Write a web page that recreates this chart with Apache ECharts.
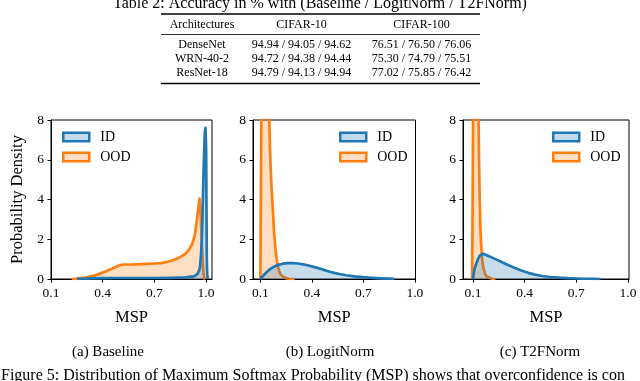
<!DOCTYPE html>
<html><head><meta charset="utf-8">
<script src="https://cdn.jsdelivr.net/npm/echarts@6.0.0/dist/echarts.min.js"></script>
<style>html,body{margin:0;padding:0;background:#fff}#c{width:640px;height:381px}</style>
</head><body><div id="c"></div>
<script>
// ---- data ----
const tableTitle = 'Table 2: Accuracy in % with (Baseline / LogitNorm / T2FNorm)';
const tableHeaders = ['Architectures', 'CIFAR-10', 'CIFAR-100'];
const tableRows = [
  ['DenseNet', '94.94 / 94.05 / 94.62', '76.51 / 76.50 / 76.06'],
  ['WRN-40-2', '94.72 / 94.38 / 94.44', '75.30 / 74.79 / 75.51'],
  ['ResNet-18', '94.79 / 94.13 / 94.94', '77.02 / 75.85 / 76.42']
];
const subCaptions = ['(a) Baseline', '(b) LogitNorm', '(c) T2FNorm'];
const figCaption = 'Figure 5: Distribution of Maximum Softmax Probability (MSP) shows that overconfidence is con';
const seriesNames = ['ID', 'OOD'];
const xTicks = [0.1, 0.4, 0.7, 1.0];
const yTicks = [0, 2, 4, 6, 8];
const xLabel = 'MSP';
const yLabel = 'Probability Density';

const idA = [[0.25,0],[0.3,0.02],[0.4,0.04],[0.5,0.05],[0.6,0.05],[0.7,0.05],[0.8,0.06],[0.88,0.08],[0.93,0.13],[0.95,0.25],[0.96,0.42],[0.965,0.6],[0.971,1.2],[0.976,2.0],[0.979,3.0],[0.982,4.0],[0.985,5.0],[0.988,6.0],[0.991,6.8],[0.994,7.4],[0.997,7.6],[0.999,7.5],[1.001,6.5],[1.002,5],[1.003,3.5],[1.004,2],[1.005,1],[1.007,0.3],[1.01,0]];
const oodA = [[0.22,0],[0.25,0.02],[0.3,0.07],[0.35,0.17],[0.4,0.32],[0.45,0.5],[0.48,0.62],[0.5,0.7],[0.52,0.73],[0.56,0.73],[0.6,0.74],[0.65,0.76],[0.7,0.78],[0.74,0.8],[0.78,0.87],[0.82,0.98],[0.85,1.1],[0.88,1.27],[0.9,1.45],[0.92,1.75],[0.935,2.2],[0.947,2.95],[0.955,3.5],[0.962,4.05],[0.966,3.7],[0.97,3.0],[0.974,2.2],[0.978,1.4],[0.982,0.7],[0.986,0.25],[0.99,0.05],[0.995,0]];
const idB = [[0.1,0],[0.12,0.2],[0.14,0.38],[0.16,0.52],[0.18,0.62],[0.2,0.7],[0.23,0.77],[0.26,0.8],[0.29,0.8],[0.32,0.78],[0.35,0.74],[0.38,0.68],[0.41,0.61],[0.44,0.54],[0.47,0.46],[0.5,0.38],[0.53,0.31],[0.56,0.25],[0.6,0.19],[0.65,0.13],[0.7,0.09],[0.75,0.06],[0.8,0.035],[0.85,0.015],[0.88,0.005]];
const oodB = [[0.1,0],[0.102,3],[0.105,7],[0.108,11],[0.115,16],[0.125,18],[0.135,16],[0.145,11.5],[0.152,8],[0.158,6],[0.165,4.6],[0.172,3.6],[0.178,2.6],[0.184,1.9],[0.19,1.35],[0.196,0.95],[0.202,0.62],[0.21,0.38],[0.22,0.2],[0.235,0.1],[0.25,0.04],[0.27,0.01],[0.3,0]];
const idC = [[0.1,0],[0.105,0.3],[0.11,0.55],[0.12,0.8],[0.13,1.02],[0.14,1.18],[0.15,1.26],[0.16,1.27],[0.18,1.2],[0.2,1.12],[0.23,1.0],[0.26,0.88],[0.3,0.72],[0.34,0.57],[0.38,0.43],[0.42,0.31],[0.46,0.22],[0.5,0.15],[0.55,0.1],[0.6,0.065],[0.65,0.04],[0.7,0.025],[0.75,0.012],[0.8,0.005],[0.84,0]];
const oodC = [[0.095,0],[0.098,4],[0.101,9],[0.108,16],[0.118,20],[0.126,14],[0.131,9],[0.135,6],[0.139,4],[0.143,2.6],[0.147,1.8],[0.151,1.2],[0.156,0.8],[0.162,0.5],[0.17,0.25],[0.18,0.12],[0.19,0.05],[0.21,0.01],[0.23,0]];

const panels = [
  {id: idA, ood: oodA, xMin: 0.1, xMax: 1.035},
  {id: idB, ood: oodB, xMin: 0.057, xMax: 1.004},
  {id: idC, ood: oodC, xMin: 0.042, xMax: 1.006}
];

// ---- layout / style ----
const FONT = 'Liberation Serif';
const BLUE = '#1f77b4', ORANGE = '#ff7f0e';
const gridBoxes = [
  {left: 51, top: 120, width: 161, height: 159},
  {left: 253, top: 120, width: 162.5, height: 159},
  {left: 463, top: 120, width: 166, height: 159}
];
const legendLeft = [62, 339, 552];
const capX = [108, 330, 540];
const colX = [202, 301.5, 421.5];
const rowY = [45, 59, 72.7];

const grids = gridBoxes.map(b => Object.assign({show: true, borderColor: '#000', borderWidth: 1, backgroundColor: 'transparent'}, b));
const xAxes = panels.map((p, i) => ({
  type: 'value', gridIndex: i, min: p.xMin, max: p.xMax,
  name: xLabel, nameLocation: 'middle', nameGap: 30,
  nameTextStyle: {fontFamily: FONT, fontSize: 16.5, color: '#000'},
  axisLine: {show: true, lineStyle: {color: '#000', width: 1}},
  axisTick: {show: true, inside: false, length: 3.5, lineStyle: {color: '#000', width: 1}, customValues: xTicks},
  axisLabel: {customValues: xTicks, margin: 7, fontFamily: FONT, fontSize: 13.5, color: '#000', formatter: v => Number(v).toFixed(1)},
  splitLine: {show: false}
}));
const yAxes = panels.map((p, i) => ({
  type: 'value', gridIndex: i, min: 0, max: 8, interval: 2,
  name: i === 0 ? yLabel : '', nameLocation: 'middle', nameGap: 25,
  nameTextStyle: {fontFamily: FONT, fontSize: 16.5, color: '#000'},
  axisLine: {show: true, lineStyle: {color: '#000', width: 1}},
  axisTick: {show: true, inside: false, length: 3.5, lineStyle: {color: '#000', width: 1}},
  axisLabel: {margin: 7, fontFamily: FONT, fontSize: 13.5, color: '#000', formatter: v => String(v)},
  splitLine: {show: false}
}));
const series = [];
panels.forEach((p, i) => {
  series.push({name: seriesNames[1], type: 'line', xAxisIndex: i, yAxisIndex: i, data: p.ood,
    symbol: 'none', showSymbol: false, clip: true, z: 2, smooth: false,
    lineStyle: {color: ORANGE, width: 2.7, join: 'round'}, itemStyle: {color: ORANGE},
    areaStyle: {color: ORANGE, opacity: 0.25}});
  series.push({name: seriesNames[0], type: 'line', xAxisIndex: i, yAxisIndex: i, data: p.id,
    symbol: 'none', showSymbol: false, clip: true, z: 3, smooth: false,
    lineStyle: {color: BLUE, width: 2.7, join: 'round'}, itemStyle: {color: BLUE},
    areaStyle: {color: BLUE, opacity: 0.25}});
});
const legends = legendLeft.map(l => ({
  orient: 'vertical', left: l, top: 130, padding: 0, itemWidth: 26, itemHeight: 8.5, itemGap: 6,
  selectedMode: false,
  textStyle: {fontFamily: FONT, fontSize: 14, color: '#000', padding: [0, 0, 0, 6]},
  data: [
    {name: seriesNames[0], icon: 'rect', itemStyle: {color: 'rgba(31,119,180,0.28)', borderColor: BLUE, borderWidth: 2.5}},
    {name: seriesNames[1], icon: 'rect', itemStyle: {color: 'rgba(255,127,14,0.25)', borderColor: ORANGE, borderWidth: 2.5}}
  ]
}));

const g = [];
g.push({type: 'text', left: 'center', y: -4, style: {text: tableTitle, fontFamily: FONT, fontSize: 16, fill: '#000'}});
g.push({type: 'line', shape: {x1: 161, y1: 14, x2: 480, y2: 14}, style: {stroke: '#000', lineWidth: 1.3}});
g.push({type: 'line', shape: {x1: 161, y1: 34.5, x2: 480, y2: 34.5}, style: {stroke: '#000', lineWidth: 0.8}});
g.push({type: 'line', shape: {x1: 161, y1: 83.5, x2: 480, y2: 83.5}, style: {stroke: '#000', lineWidth: 1.3}});
tableHeaders.forEach((h, j) => g.push({type: 'text', x: colX[j], y: 25, style: {text: h, fontFamily: FONT, fontSize: 12, fill: '#000', align: 'center', verticalAlign: 'middle'}}));
tableRows.forEach((r, k) => r.forEach((c, j) => g.push({type: 'text', x: colX[j], y: rowY[k], style: {text: c, fontFamily: FONT, fontSize: 12, fill: '#000', align: 'center', verticalAlign: 'middle'}})));
subCaptions.forEach((c, j) => g.push({type: 'text', x: capX[j], y: 352, style: {text: c, fontFamily: FONT, fontSize: 15, fill: '#000', align: 'center', verticalAlign: 'middle'}}));
g.push({type: 'text', x: 1, y: 376, style: {text: figCaption, fontFamily: FONT, fontSize: 16, fill: '#000', align: 'left', verticalAlign: 'middle'}});

const chart = echarts.init(document.getElementById('c'), null, {renderer: 'canvas'});
chart.setOption({
  animation: false,
  backgroundColor: '#fff',
  grid: grids, xAxis: xAxes, yAxis: yAxes, series: series, legend: legends, graphic: g
});
</script></body></html>
